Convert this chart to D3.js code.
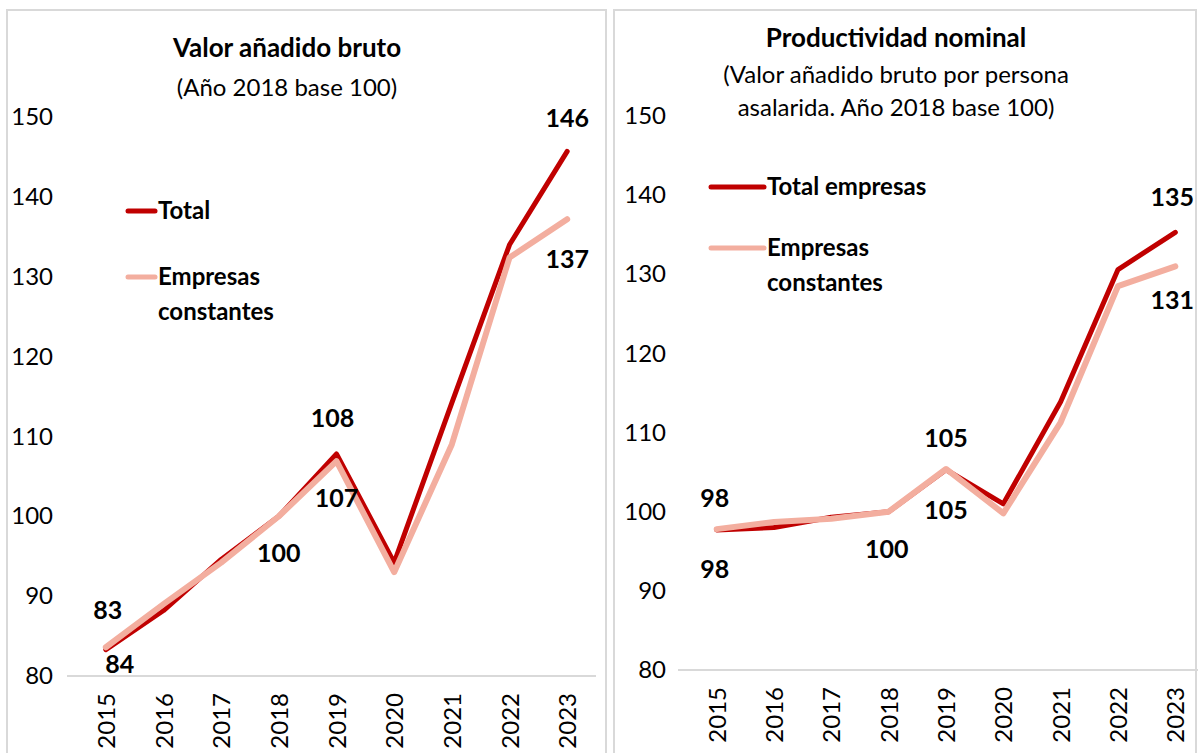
<!DOCTYPE html>
<html>
<head>
<meta charset="utf-8">
<script src="https://cdn.jsdelivr.net/npm/d3@7"></script>
<style>
  body { margin: 0; background: #fff; }
  text { font-family: Lato, "Open Sans", sans-serif; fill: #000; }
</style>
</head>
<body>
<svg width="1198" height="753"></svg>
<script>
// Years on the x axis (both panels)
const years = ["2015", "2016", "2017", "2018", "2019", "2020", "2021", "2022", "2023"];
const yTicks = [80, 90, 100, 110, 120, 130, 140, 150];

// Left panel: Valor añadido bruto (2018 = 100)
const vabTotal = [83.3, 88.2, 94.6, 100, 107.8, 94.2, 114.2, 134.0, 145.7];
const vabConstantes = [83.6, 89.0, 94.2, 100, 106.9, 93.0, 109.0, 132.4, 137.2];

// Right panel: Productividad nominal (2018 = 100)
const prodTotal = [97.7, 98.0, 99.3, 100, 105.3, 101.0, 113.9, 130.6, 135.3];
const prodConstantes = [97.8, 98.7, 99.1, 100, 105.4, 99.8, 111.3, 128.5, 131.0];

const darkRed = "#C00000";
const lightRed = "#F3AE9F";

const svg = d3.select("svg");

// Panel frames
svg.append("rect").attr("x", 7).attr("y", 10).attr("width", 599).attr("height", 760)
  .attr("fill", "none").attr("stroke", "#D9D9D9").attr("stroke-width", 2);
svg.append("rect").attr("x", 614).attr("y", 10).attr("width", 582).attr("height", 760)
  .attr("fill", "none").attr("stroke", "#D9D9D9").attr("stroke-width", 2);

function drawPanel(cfg) {
  const g = svg.append("g");

  const x = d3.scalePoint().domain(years).range(cfg.xRange).padding(0.5);
  const y = d3.scaleLinear().domain([80, 150]).range(cfg.yRange);

  // Titles
  g.append("text")
    .attr("x", cfg.titleX).attr("y", cfg.titleY)
    .attr("text-anchor", "middle")
    .style("font-size", "26px").style("font-weight", "bold")
    .text(cfg.title);
  cfg.subtitle.forEach((s, i) => {
    g.append("text")
      .attr("x", cfg.titleX).attr("y", cfg.subY + i * 33)
      .attr("text-anchor", "middle")
      .style("font-size", "24px")
      .text(s);
  });

  // y axis labels (no line)
  const yAxis = g.append("g")
    .attr("transform", `translate(${cfg.yLabelX},0)`)
    .call(d3.axisLeft(y).tickValues(yTicks).tickSize(0).tickPadding(0));
  yAxis.select(".domain").remove();
  yAxis.selectAll("text").style("font-size", "24px").style("font-family", "Lato");

  // x axis baseline + rotated labels
  const xAxis = g.append("g")
    .attr("transform", `translate(0,${y(80)})`)
    .call(d3.axisBottom(x).tickSize(0));
  xAxis.select(".domain").attr("stroke", "#D9D9D9").attr("stroke-width", 2)
    .attr("d", `M${cfg.xRange[0] - 10},0H${cfg.xRange[1]}`);
  xAxis.selectAll("text")
    .style("font-size", "24px").style("font-family", "Lato")
    .attr("transform", "rotate(-90)")
    .attr("text-anchor", "end")
    .attr("x", -17).attr("y", 0).attr("dy", "0.36em");

  // Lines
  const line = d3.line().x((d, i) => x(years[i])).y(d => y(d));
  g.append("path").datum(cfg.total)
    .attr("fill", "none").attr("stroke", darkRed).attr("stroke-width", 5)
    .attr("stroke-linejoin", "round").attr("stroke-linecap", "round")
    .attr("d", line);
  g.append("path").datum(cfg.constantes)
    .attr("fill", "none").attr("stroke", lightRed).attr("stroke-width", 6)
    .attr("stroke-linejoin", "round").attr("stroke-linecap", "round")
    .attr("d", line);

  // Data labels
  cfg.labels.forEach(l => {
    const v = l.series === "total" ? cfg.total[l.i] : cfg.constantes[l.i];
    g.append("text")
      .attr("x", x(years[l.i]) + (l.dx || 0))
      .attr("y", y(v) + l.dy)
      .attr("dy", "0.35em")
      .attr("text-anchor", "middle")
      .style("font-size", "25px").style("font-weight", "bold")
      .text(Math.round(v));
  });

  // Legend
  const lg = g.append("g").attr("transform", `translate(${cfg.legendX},${cfg.legendY})`);
  const L = cfg.legendLen;
  lg.append("line").attr("x1", 0).attr("x2", L).attr("y1", 0).attr("y2", 0)
    .attr("stroke", darkRed).attr("stroke-width", 5).attr("stroke-linecap", "round");
  lg.append("text").attr("x", L + 3).attr("y", 0).attr("dy", "0.35em")
    .style("font-size", "24px").style("font-weight", "bold").text(cfg.legendTotal);
  lg.append("line").attr("x1", 0).attr("x2", L).attr("y1", cfg.legendGap).attr("y2", cfg.legendGap)
    .attr("stroke", lightRed).attr("stroke-width", 5).attr("stroke-linecap", "round");
  lg.append("text").attr("x", L + 3).attr("y", cfg.legendGap).attr("dy", "0.35em")
    .style("font-size", "24px").style("font-weight", "bold").text("Empresas");
  lg.append("text").attr("x", L + 3).attr("y", cfg.legendGap + 35).attr("dy", "0.35em")
    .style("font-size", "24px").style("font-weight", "bold").text("constantes");
}

drawPanel({
  title: "Valor añadido bruto",
  subtitle: ["(Año 2018 base 100)"],
  titleX: 287, titleY: 57, subY: 96,
  xRange: [77, 596], yRange: [676, 117], yLabelX: 53,
  total: vabTotal, constantes: vabConstantes,
  legendX: 128, legendY: 211, legendGap: 66, legendLen: 27, legendTotal: "Total",
  labels: [
    { series: "total", i: 0, dy: -39, dx: 2 },
    { series: "constantes", i: 0, dy: 17, dx: 14 },
    { series: "total", i: 3, dy: 37 },
    { series: "total", i: 4, dy: -36, dx: -4 },
    { series: "constantes", i: 4, dy: 37 },
    { series: "total", i: 8, dy: -33 },
    { series: "constantes", i: 8, dy: 40 }
  ]
});

drawPanel({
  title: "Productividad nominal",
  subtitle: ["(Valor añadido bruto por persona", "asalarida. Año 2018 base 100)"],
  titleX: 896, titleY: 47, subY: 83,
  xRange: [688, 1204], yRange: [670, 116], yLabelX: 666,
  total: prodTotal, constantes: prodConstantes,
  legendX: 711, legendY: 187, legendGap: 61, legendLen: 53, legendTotal: "Total empresas",
  labels: [
    { series: "total", i: 0, dy: -32, dx: -2 },
    { series: "constantes", i: 0, dy: 40, dx: -2 },
    { series: "total", i: 3, dy: 38, dx: -2 },
    { series: "total", i: 4, dy: -32 },
    { series: "constantes", i: 4, dy: 41 },
    { series: "total", i: 8, dy: -35, dx: -3 },
    { series: "constantes", i: 8, dy: 34, dx: -3 }
  ]
});
</script>
</body>
</html>
